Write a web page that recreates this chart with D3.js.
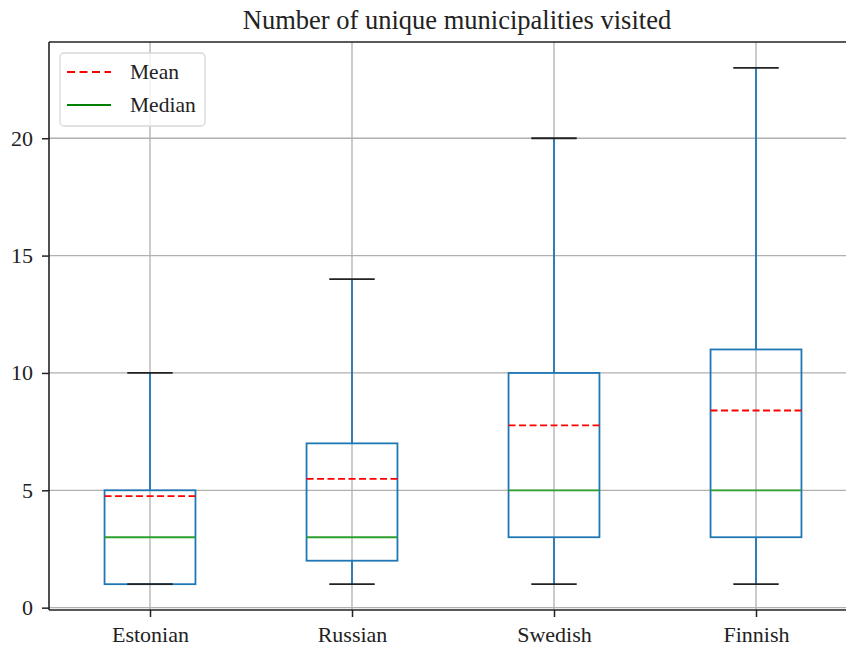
<!DOCTYPE html>
<html>
<head>
<meta charset="utf-8">
<script src="https://cdn.jsdelivr.net/npm/d3@7"></script>
<style>
    body { margin: 0; background: #fff; }
    svg { display: block; font-family: "Liberation Serif", "Times New Roman", serif; }
</style>
</head>
<body>
<div id="chart"></div>
<script>
var categories = ["Estonian", "Russian", "Swedish", "Finnish"];
var whiskerLow = [1, 1, 1, 1];
var q1 = [1, 2, 3, 3];
var medians = [3, 3, 5, 5];
var q3 = [5, 7, 10, 11];
var whiskerHigh = [10, 14, 20, 23];
var means = [4.75, 5.49, 7.77, 8.40];
var yTicks = [0, 5, 10, 15, 20];

var boxes = categories.map(function (c, i) {
    return {
        name: c, pos: i + 1,
        lo: whiskerLow[i], q1: q1[i], med: medians[i],
        q3: q3[i], hi: whiskerHigh[i], mean: means[i]
    };
});

var margin = { top: 42, right: -11, bottom: 38, left: 49 };
var width = 846 - margin.left - margin.right;
var height = 648 - margin.top - margin.bottom;

var svg = d3.select("#chart").append("svg")
    .attr("width", 846)
    .attr("height", 648);

var g = svg.append("g")
    .attr("transform", "translate(" + margin.left + "," + margin.top + ")");

var x = d3.scaleLinear().domain([0.5, 4.5]).range([0, width]);
var y = d3.scaleLinear().domain([-0.1, 24.1]).range([height, 0]);
// matplotlib boxplot: box width 0.45, caps half of that
var boxW = x(1.45) - x(1);
var capW = boxW / 2;

// grid
g.append("g").selectAll("line.gy")
    .data(yTicks)
    .enter().append("line")
    .attr("x1", 0).attr("x2", width)
    .attr("y1", function (d) { return y(d); })
    .attr("y2", function (d) { return y(d); })
    .style("stroke", "#b0b0b0").style("stroke-width", 1.3);

g.append("g").selectAll("line.gx")
    .data(boxes)
    .enter().append("line")
    .attr("x1", function (d) { return x(d.pos); })
    .attr("x2", function (d) { return x(d.pos); })
    .attr("y1", 0).attr("y2", height)
    .style("stroke", "#b0b0b0").style("stroke-width", 1.3);

var box = g.selectAll("g.box")
    .data(boxes)
    .enter().append("g")
    .attr("class", "box");

// whiskers
box.append("line")
    .attr("x1", function (d) { return x(d.pos); })
    .attr("x2", function (d) { return x(d.pos); })
    .attr("y1", function (d) { return y(d.lo); })
    .attr("y2", function (d) { return y(d.q1); })
    .style("stroke", "#1f77b4").style("stroke-width", 1.8);

box.append("line")
    .attr("x1", function (d) { return x(d.pos); })
    .attr("x2", function (d) { return x(d.pos); })
    .attr("y1", function (d) { return y(d.q3); })
    .attr("y2", function (d) { return y(d.hi); })
    .style("stroke", "#1f77b4").style("stroke-width", 1.8);

box.append("rect")
    .attr("x", function (d) { return x(d.pos) - boxW / 2; })
    .attr("y", function (d) { return y(d.q3); })
    .attr("width", boxW)
    .attr("height", function (d) { return y(d.q1) - y(d.q3); })
    .style("fill", "none")
    .style("stroke", "#1f77b4").style("stroke-width", 1.8);

// caps (drawn over the box, like matplotlib)
["lo", "hi"].forEach(function (k) {
    box.append("line")
        .attr("x1", function (d) { return x(d.pos) - capW / 2; })
        .attr("x2", function (d) { return x(d.pos) + capW / 2; })
        .attr("y1", function (d) { return y(d[k]); })
        .attr("y2", function (d) { return y(d[k]); })
        .style("stroke", "#222").style("stroke-width", 1.8);
});

box.append("line")
    .attr("x1", function (d) { return x(d.pos) - boxW / 2; })
    .attr("x2", function (d) { return x(d.pos) + boxW / 2; })
    .attr("y1", function (d) { return y(d.med); })
    .attr("y2", function (d) { return y(d.med); })
    .style("stroke", "#2ca02c").style("stroke-width", 1.8);

box.append("line")
    .attr("x1", function (d) { return x(d.pos) - boxW / 2; })
    .attr("x2", function (d) { return x(d.pos) + boxW / 2; })
    .attr("y1", function (d) { return y(d.mean); })
    .attr("y2", function (d) { return y(d.mean); })
    .style("stroke", "#ff0000").style("stroke-width", 1.8)
    .style("stroke-dasharray", "7,3.5");

// axes
var yAxis = d3.axisLeft(y).tickValues(yTicks).tickSize(7).tickPadding(9);
var xAxis = d3.axisBottom(x).tickValues([1, 2, 3, 4])
    .tickFormat(function (d) { return categories[d - 1]; })
    .tickSize(7).tickPadding(9);

g.append("g").attr("class", "y-axis").call(yAxis);
g.append("g").attr("class", "x-axis")
    .attr("transform", "translate(0," + height + ")").call(xAxis);

g.selectAll(".domain").remove();
g.selectAll(".tick line").style("stroke", "#222").style("stroke-width", 1.5);
g.selectAll(".tick text")
    .style("font-family", "Liberation Serif, serif")
    .style("font-size", "22px").style("fill", "#222");

// spines
g.append("line").attr("x1", 0).attr("x2", 0).attr("y1", 0).attr("y2", height)
    .style("stroke", "#222").style("stroke-width", 1.6);
g.append("line").attr("x1", 0).attr("x2", width).attr("y1", height).attr("y2", height)
    .style("stroke", "#222").style("stroke-width", 1.6);
g.append("line").attr("x1", 0).attr("x2", width).attr("y1", 0).attr("y2", 0)
    .style("stroke", "#222").style("stroke-width", 1.6);

// title
svg.append("text")
    .attr("x", 457)
    .attr("y", 29)
    .attr("text-anchor", "middle")
    .style("font-size", "26.5px").style("fill", "#222")
    .text("Number of unique municipalities visited");

// legend
var legend = g.append("g").attr("transform", "translate(11,11)");
legend.append("rect")
    .attr("width", 145).attr("height", 73).attr("rx", 4)
    .style("fill", "rgba(255,255,255,0.8)")
    .style("stroke", "#d8d8d8").style("stroke-width", 1.3);

var legendItems = [
    { label: "Mean", color: "#ff0000", dash: "8,4.5" },
    { label: "Median", color: "#008000", dash: null }
];
legendItems.forEach(function (it, i) {
    var ly = 19 + i * 33;
    legend.append("line")
        .attr("x1", 7).attr("x2", 51).attr("y1", ly).attr("y2", ly)
        .style("stroke", it.color).style("stroke-width", 2)
        .style("stroke-dasharray", it.dash);
    legend.append("text")
        .attr("x", 70).attr("y", ly + 7)
        .style("font-size", "21.5px").style("fill", "#222")
        .text(it.label);
});
</script>
</body>
</html>
